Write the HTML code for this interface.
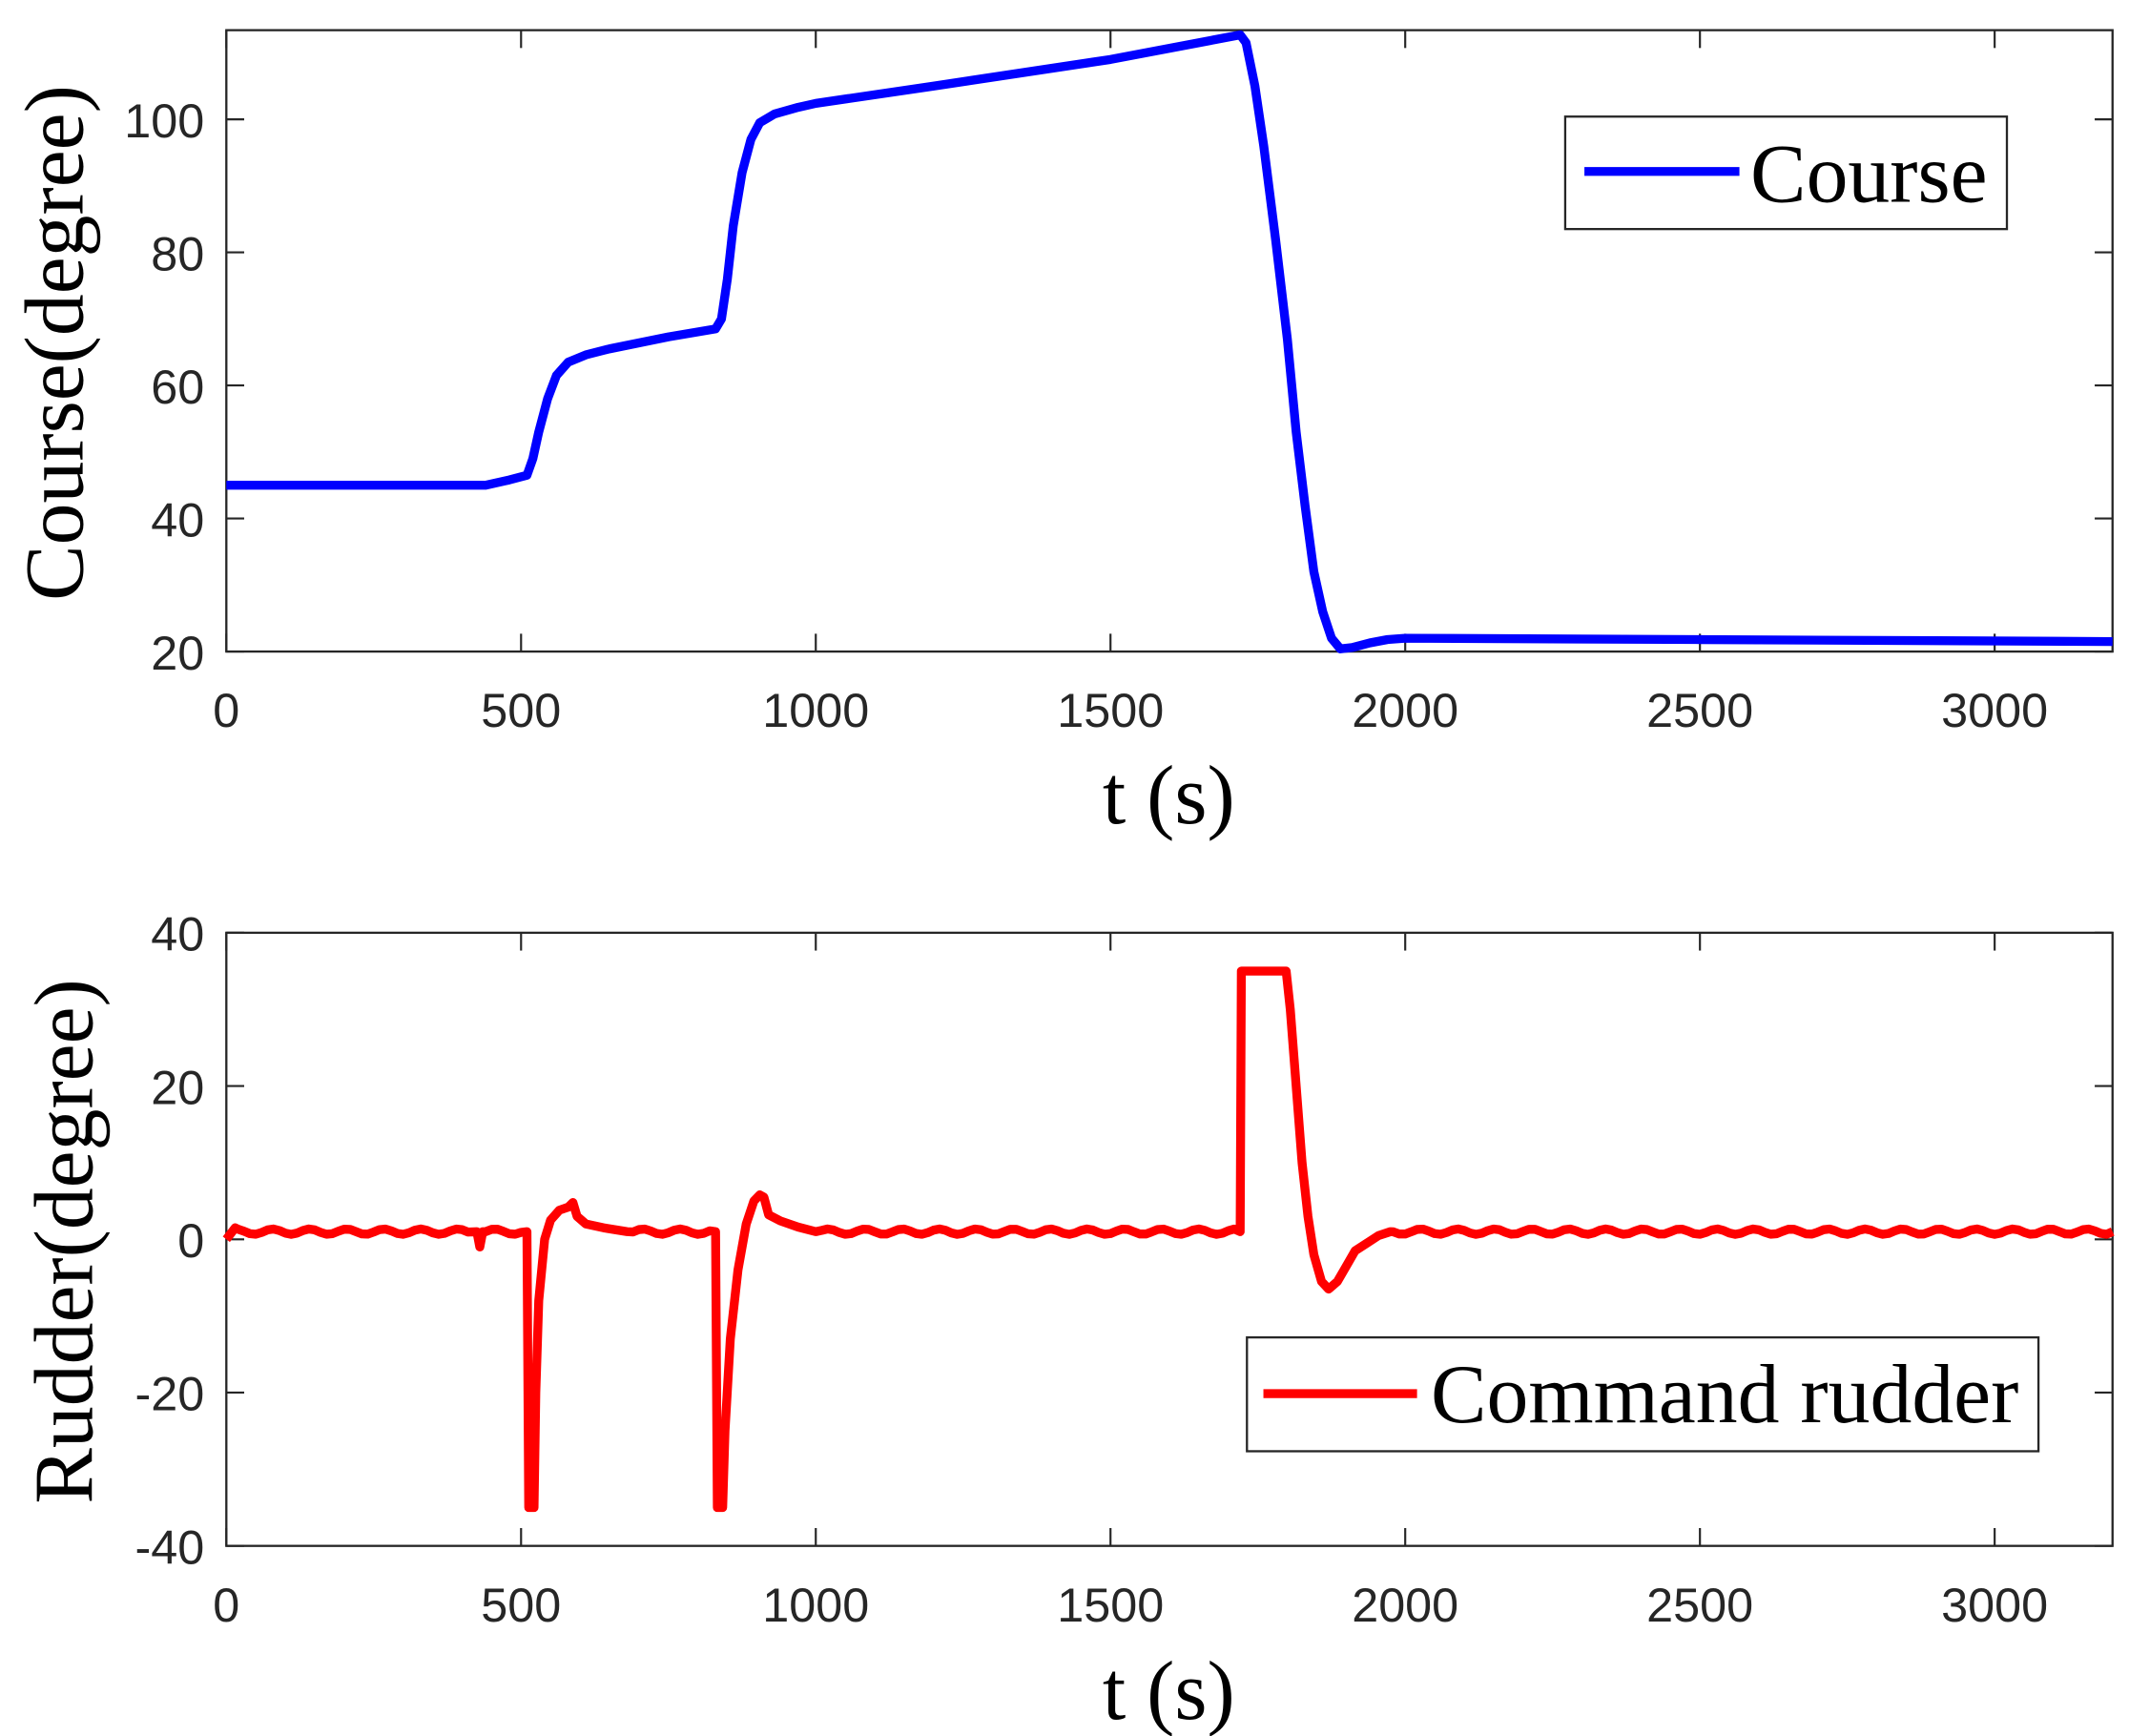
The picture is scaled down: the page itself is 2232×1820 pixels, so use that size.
<!DOCTYPE html>
<html><head><meta charset="utf-8"><style>
html,body{margin:0;padding:0;background:#fff;}
svg{display:block;}
.tk{font-family:"Liberation Sans",sans-serif;font-size:35px;fill:#262626;}
.lb{font-family:"Liberation Serif",serif;font-size:61px;fill:#000;}
</style></head><body>
<svg id="s" width="2232" height="1820" viewBox="0 0 1552 1265.6" preserveAspectRatio="none" xmlns="http://www.w3.org/2000/svg">
<g id="g"></g>
</svg>
<script>
const NS="http://www.w3.org/2000/svg";
const g=document.getElementById('g');
function el(t,a,txt){const e=document.createElementNS(NS,t);for(const k in a)e.setAttribute(k,a[k]);if(txt!==undefined)e.textContent=txt;g.appendChild(e);return e;}
const L=165,R=1540;
const X=t=>L+t*(R-L)/3200;
function axes(top,bot,yt,ymap,xl){
  el('rect',{x:L,y:top,width:R-L,height:bot-top,fill:'#fff',stroke:'#262626','stroke-width':1.6});
  for(let t=0;t<=3000;t+=500){const x=X(t);
    el('line',{x1:x,y1:bot,x2:x,y2:bot-13,stroke:'#262626','stroke-width':1.5});
    el('line',{x1:x,y1:top,x2:x,y2:top+13,stroke:'#262626','stroke-width':1.5});
    el('text',{x:x,y:bot+55,'text-anchor':'middle',class:'tk'},String(t));}
  for(const v of yt){const y=ymap(v);
    el('line',{x1:L,y1:y,x2:L+13,y2:y,stroke:'#262626','stroke-width':1.5});
    el('line',{x1:R,y1:y,x2:R-13,y2:y,stroke:'#262626','stroke-width':1.5});
    el('text',{x:L-16,y:y+13,'text-anchor':'end',class:'tk'},String(v));}
  el('text',{x:852,y:xl,'text-anchor':'middle',class:'lb'},'t (s)');
}
const Y1=v=>475-(v-20)*4.85;
const Y2=v=>903.5-v*5.5875;
axes(22,475,[20,40,60,80,100],Y1,600);
axes(680,1127,[-40,-20,0,20,40],Y2,1253);
el('text',{x:0,y:0,'text-anchor':'middle',class:'lb',transform:'translate(60,250) rotate(-90)'},'Course(degree)');
el('text',{x:0,y:0,'text-anchor':'middle',class:'lb',transform:'translate(67,905) rotate(-90)'},'Rudder(degree)');
const c=[[0,45],[400,45],[440,45],[480,45.8],[510,46.5],[520,49],[530,53],[545,58],[560,61.5],[580,63.5],[610,64.6],[650,65.5],[750,67.3],[830,68.5],[840,70],[850,76],[860,84],[875,92],[890,97],[905,99.5],[930,100.8],[970,101.8],[1000,102.4],[1200,105],[1500,109],[1720,112.7],[1730,111.5],[1745,105],[1760,96],[1780,82],[1800,67],[1815,53],[1830,42],[1845,32],[1860,26],[1875,22],[1890,20.4],[1910,20.6],[1940,21.3],[1970,21.8],[2000,22],[2500,21.8],[3200,21.5]];
el('polyline',{points:c.map(p=>X(p[0])+','+Y1(p[1])).join(' '),fill:'none',stroke:'#0000ff','stroke-width':6.5,'stroke-linejoin':'round'});
let r=[[0,0],[15,1.5]];
function wig(a,b){for(let t=a;t<b;t+=10){r.push([t,1+0.35*Math.sin(t/10)]);}}
wig(20,420);r.push([425,1],[430,-1],[435,1]);wig(440,510);
r.push([510,1],[513,-35],[522,-35],[525,-20],[530,-8],[540,0],[550,2.5],[565,3.8],[580,4.2],[588,4.8],[595,3],[610,2],[640,1.5],[680,1]);
wig(690,830);r.push([830,1],[833,-35],[842,-35],[846,-25],[855,-13],[868,-4],[882,2],[895,5],[905,5.8],[912,5.5],[920,3.2],[940,2.4],[970,1.6],[1000,1]);
wig(1010,1720);r.push([1720,1],[1722,35],[1798,35],[1805,30],[1815,20],[1825,10],[1835,3],[1845,-2],[1858,-5.5],[1870,-6.5],[1885,-5.5],[1900,-3.5],[1915,-1.5],[1935,-0.5],[1955,0.5],[1975,1]);
wig(1980,3200);r.push([3200,1]);
el('polyline',{points:r.map(p=>X(p[0])+','+Y2(p[1])).join(' '),fill:'none',stroke:'#ff0000','stroke-width':6.5,'stroke-linejoin':'round'});
el('rect',{x:1141,y:85,width:322,height:82,fill:'#fff',stroke:'#262626','stroke-width':1.6});
el('line',{x1:1155,y1:125,x2:1268,y2:125,stroke:'#0000ff','stroke-width':6.5});
el('text',{x:1276,y:147,class:'lb'},'Course');
el('rect',{x:909,y:975,width:577,height:83,fill:'#fff',stroke:'#262626','stroke-width':1.6});
el('line',{x1:921,y1:1016,x2:1033,y2:1016,stroke:'#ff0000','stroke-width':6.5});
el('text',{x:1043,y:1037,class:'lb'},'Command rudder');
</script>
</body></html>
